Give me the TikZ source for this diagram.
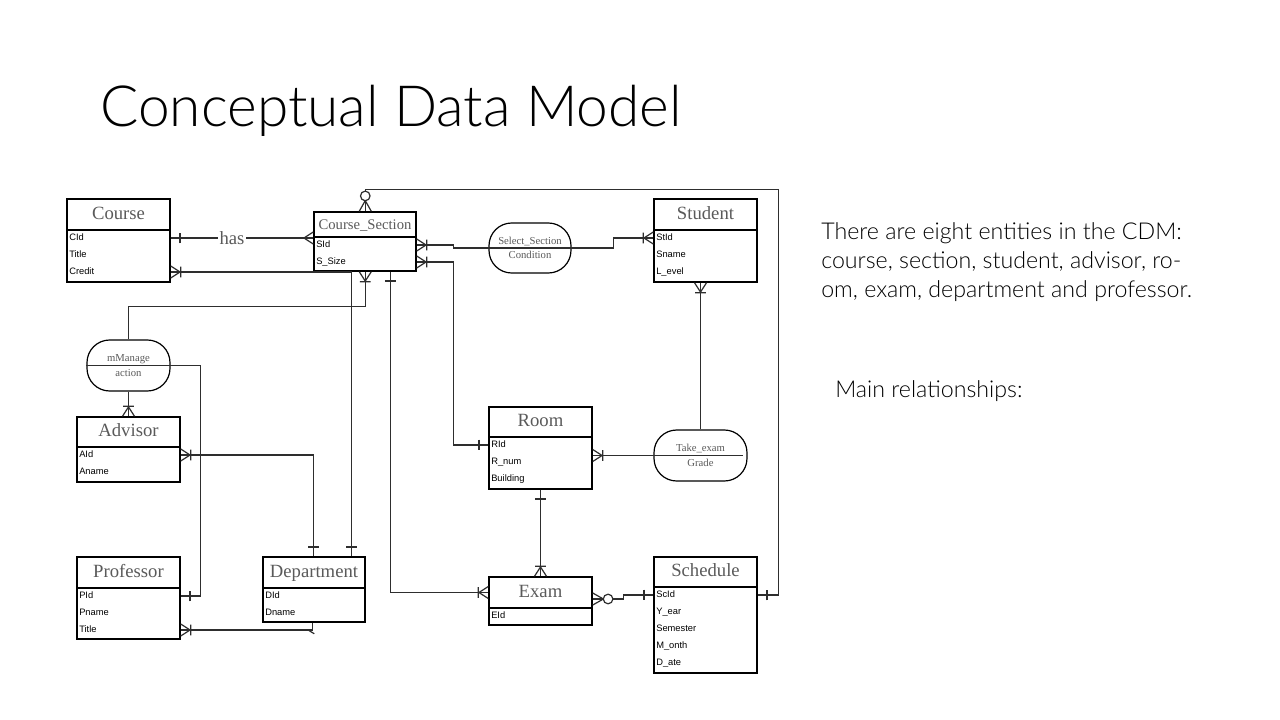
\documentclass[tikz,border=0pt]{standalone}
\usepackage{fontspec}
\setmainfont{Lato}[UprightFont=* Light]
\newfontfamily\boxserif{Liberation Serif}
\newfontfamily\boxsans{Liberation Sans}
\usetikzlibrary{fit,calc}

\definecolor{titlegray}{HTML}{5A5A5A}
\definecolor{linegray}{HTML}{2E2E2E}

% crow's foot end marks
\pgfdeclarearrow{
  name = onebar,
  cache = false,
  setup code = {
    \pgfarrowssettipend{0pt}
    \pgfarrowssetlineend{0pt}
    \pgfarrowssetbackend{-8pt}
    \pgfarrowshullpoint{-7pt}{4pt}
    \pgfarrowshullpoint{-7pt}{-4pt}
  },
  drawing code = {
    \pgfpathmoveto{\pgfqpoint{-7pt}{4pt}}
    \pgfpathlineto{\pgfqpoint{-7pt}{-4pt}}
    \pgfusepathqstroke
  }
}
\pgfdeclarearrow{
  name = many,
  cache = false,
  setup code = {
    \pgfarrowssettipend{0pt}
    \pgfarrowssetlineend{0pt}
    \pgfarrowssetbackend{-7pt}
    \pgfarrowshullpoint{0pt}{4.5pt}
    \pgfarrowshullpoint{0pt}{-4.5pt}
  },
  drawing code = {
    \pgfpathmoveto{\pgfqpoint{0pt}{4.5pt}}
    \pgfpathlineto{\pgfqpoint{-7pt}{0pt}}
    \pgfpathlineto{\pgfqpoint{0pt}{-4.5pt}}
    \pgfusepathqstroke
  }
}
\pgfdeclarearrow{
  name = crowbar,
  cache = false,
  setup code = {
    \pgfarrowssettipend{0pt}
    \pgfarrowssetlineend{0pt}
    \pgfarrowssetbackend{-9pt}
    \pgfarrowshullpoint{0pt}{4.5pt}
    \pgfarrowshullpoint{0pt}{-4.5pt}
    \pgfarrowshullpoint{-8pt}{4pt}
    \pgfarrowshullpoint{-8pt}{-4pt}
  },
  drawing code = {
    \pgfpathmoveto{\pgfqpoint{0pt}{4.5pt}}
    \pgfpathlineto{\pgfqpoint{-7pt}{0pt}}
    \pgfpathlineto{\pgfqpoint{0pt}{-4.5pt}}
    \pgfpathmoveto{\pgfqpoint{-7.5pt}{4pt}}
    \pgfpathlineto{\pgfqpoint{-7.5pt}{-4pt}}
    \pgfusepathqstroke
  }
}
\pgfdeclarearrow{
  name = zeromany,
  cache = false,
  setup code = {
    \pgfarrowssettipend{0pt}
    \pgfarrowssetlineend{0pt}
    \pgfarrowssetbackend{-16pt}
    \pgfarrowshullpoint{0pt}{4.5pt}
    \pgfarrowshullpoint{0pt}{-4.5pt}
    \pgfarrowshullpoint{-16pt}{4pt}
    \pgfarrowshullpoint{-16pt}{-4pt}
  },
  drawing code = {
    \pgfpathmoveto{\pgfqpoint{0pt}{4.5pt}}
    \pgfpathlineto{\pgfqpoint{-8pt}{0pt}}
    \pgfpathlineto{\pgfqpoint{0pt}{-4.5pt}}
    \pgfusepathqstroke
    \pgfsetfillcolor{white}
    \pgfpathcircle{\pgfqpoint{-11.5pt}{0pt}}{3.6pt}
    \pgfusepathqfillstroke
  }
}

\tikzset{
  entity/.style={draw, line width=1.1pt, inner sep=0pt},
  etitle/.style={font=\boxserif\fontsize{14}{16}\selectfont, text=titlegray, inner sep=0pt, text height=9.5pt, text depth=2.5pt},
  attr/.style={font=\boxsans\fontsize{7}{8}\selectfont, anchor=west, inner sep=0pt, text height=5.2pt, text depth=1.5pt},
  relation/.style={draw, line width=0.9pt, rounded corners=17pt, inner sep=0pt},
  reltext/.style={font=\boxserif\fontsize{8}{11}\selectfont, text=titlegray, align=center, inner sep=0pt},
  conn/.style={draw=linegray, line width=0.9pt},
  bodytext/.style={anchor=base west, inner sep=0pt, font=\fontsize{17.4}{22}\selectfont},
}

\begin{document}
\begin{tikzpicture}[x=0.75pt, y=-0.75pt]
    \fill[white] (0,0) rectangle (1280,720);
    \useasboundingbox (0,0) rectangle (1280,720);

    % slide text
    \node[anchor=base west, inner sep=0pt, font=\fontsize{42.6}{50}\selectfont] (title) at (100,127) {Conceptual Data Model};
    \node[bodytext] (line1) at (821,239) {There are eight entities in the CDM:};
    \node[bodytext] (line2) at (821,268) {course, section, student, advisor, ro-};
    \node[bodytext] (line3) at (821,297) {om, exam, department and professor.};
    \node[bodytext] (mainrel) at (835,397) {Main relationships:};

    % entities: name/title/corners/header height/attributes
    \foreach \n/\ttl/\xa/\ya/\xb/\yb/\h/\attrs in {
        course/Course/67/199/170/282/31/{CId,Title,Credit},
        cs/{\fontsize{11}{13}\selectfont Course\_Section}/314/212/416/271/25/{SId,S\_Size},
        student/Student/654/199/757/282/31/{StId,Sname,L\_evel},
        advisor/Advisor/77/417/180/482/30/{AId,Aname},
        professor/Professor/77/557/180/639/31/{PId,Pname,Title},
        dept/Department/263/557/365/622/31/{DId,Dname},
        room/Room/489/407/592/489/30/{RId,R\_num,Building},
        exam/Exam/489/577/592/625/31/{EId},
        schedule/Schedule/654/557/757/673/30/{ScId,Y\_ear,Semester,M\_onth,D\_ate}}{
        \node[entity, fit={(\xa,\ya) (\xb,\yb)}] (\n) {};
        \draw[line width=1.1pt] (\xa,\ya+\h) -- (\xb,\ya+\h);
        \node[etitle] (\n-t) at ({(\xa+\xb)/2},{\ya+\h/2}) {\ttl};
        \foreach \att [count=\i] in \attrs
            \node[attr] (\n-\i) at (\xa+2,{\ya+\h+8+17*(\i-1)}) {\att};
    }

    % relationships
    \node[relation, fit={(489,223) (571,273)}] (select) {};
    \node[reltext] (select-t) at (select) {Select\_Section\\Condition};
    \node[relation, fit={(87,340) (170,391)}] (mmanage) {};
    \node[reltext] (mmanage-t) at (mmanage) {mManage\\action};
    \draw[conn] (mmanage.west) -- (mmanage.east);
    \node[relation, fit={(654,430) (747,481)}] (takeexam) {};
    \node[reltext] (takeexam-t) at (takeexam) {Take\_exam\\Grade};
    \draw[conn] (takeexam.west) -- ($(takeexam.east)+(-5,0)$);

    % connectors
    \draw[conn, onebar-many] (course.east |- course-1) -- node[pos=0.43, fill=white, inner sep=1pt, font=\boxserif\fontsize{14}{16}\selectfont, text=titlegray] (has) {has} (cs.west |- course-1);
    \draw[conn, onebar-crowbar] ($(dept.north west)+(89,0)$) |- (course.east |- course-3);
    \draw[conn, crowbar-] ($(cs.south west)+(52,0)$) -- ++(0,35) -| (mmanage.north);
    \draw[conn, onebar-crowbar] ($(cs.south west)+(77,0)$) |- (exam.west |- exam-t);
    \draw[conn, onebar-zeromany] (schedule.east |- schedule-1) -- ++(21,0) |- ($(cs.north west)+(52,-22)$) -- ($(cs.north west)+(52,0)$);
    \draw[conn, crowbar-crowbar] (cs.east |- cs-1) -- ++(37,0) |- (select.west) -- (select.east) -- ++(42,0) |- (student.west |- student-1);
    \draw[conn, crowbar-onebar] (cs.east |- cs-2) -- ++(37,0) |- (room.west |- room-1);
    \draw[conn, -crowbar] (takeexam.north) -- (takeexam.north |- student.south);
    \draw[conn, -crowbar] (takeexam.west) -- (room.east |- takeexam.west);
    \draw[conn, onebar-crowbar] (room.south) -- (exam.north);
    \draw[conn, zeromany-onebar] ($(exam.east |- schedule-1)+(0,4)$) -- ++(31,0) |- (schedule.west |- schedule-1);
    \draw[conn, -crowbar] (mmanage.south) -- (advisor.north);
    \draw[conn, -onebar] (mmanage.east) -- ++(30,0) |- (professor.east |- professor-1);
    \draw[conn, crowbar-onebar] (advisor.east |- advisor-1) -| ($(dept.north west)+(51,0)$);
    \draw[conn, crowbar-] (professor.east |- professor-3) -| ($(dept.south west)+(50,0)$);
    \draw[conn] ($(dept.south west)+(47,8)$) -- ++(5,3);
\end{tikzpicture}
\end{document}
